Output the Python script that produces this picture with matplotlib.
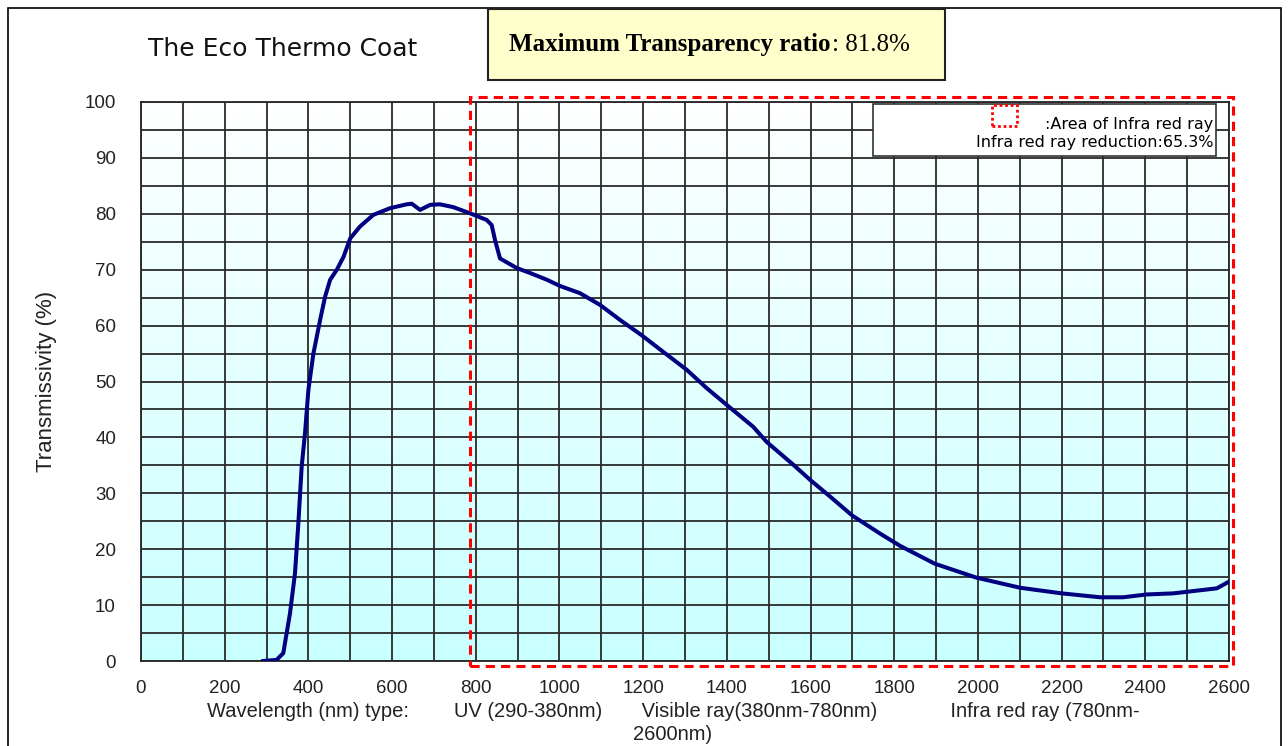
import numpy as np
import matplotlib
matplotlib.use("Agg")
import matplotlib.pyplot as plt
from matplotlib.patches import Rectangle
from matplotlib.ticker import MultipleLocator
from matplotlib.colors import LinearSegmentedColormap

wavelength = [292, 324, 340, 356, 368, 376, 384, 392, 400, 412, 428, 440, 452, 468, 484,
              500, 523, 555, 595, 635, 647, 667, 691, 714, 746, 786, 826, 838, 846, 858,
              898, 930, 970, 1001, 1049, 1097, 1145, 1196, 1248, 1304, 1352, 1400, 1463,
              1495, 1559, 1599, 1647, 1700, 1766, 1814, 1897, 1997, 2101, 2200, 2292,
              2347, 2403, 2467, 2571, 2600]
transmissivity = [0.0, 0.2, 1.4, 8.5, 15.7, 24.6, 34.8, 40.8, 48.5, 55.0, 61.0, 65.2, 68.2,
                  70.0, 72.3, 75.6, 77.7, 79.8, 81.0, 81.7, 81.8, 80.7, 81.6, 81.7, 81.2,
                  80.1, 78.9, 78.0, 75.3, 72.0, 70.3, 69.4, 68.2, 67.1, 65.8, 63.7, 61.0,
                  58.3, 55.3, 52.1, 48.8, 45.8, 41.9, 39.2, 35.1, 32.4, 29.4, 26.0, 22.8,
                  20.6, 17.4, 14.9, 13.1, 12.1, 11.4, 11.4, 11.9, 12.1, 13.0, 14.2]
x_ticks = list(range(0, 2601, 200))
y_ticks = list(range(0, 101, 10))
ir_start, ir_end = 786, 2610
title = "The Eco Thermo Coat"
max_label = "Maximum Transparency ratio"
max_value = ": 81.8%"
legend_line1 = ":Area of Infra red ray"
legend_line2 = "Infra red ray reduction:65.3%"
xlabel = ("Wavelength (nm) type:        UV (290-380nm)       Visible ray(380nm-780nm)"
          "             Infra red ray (780nm-\n2600nm)")
ylabel = "Transmissivity (%)"

plt.rcParams['font.family'] = ['Liberation Sans', 'DejaVu Sans']

W, H = 1288, 746
fig = plt.figure(figsize=(W/100, H/100), dpi=100)
fig.patch.set_facecolor('white')

# figure border
fig.patches.append(Rectangle((8/W, -0.02), (1281-8)/W, 1.02 - 8/H, transform=fig.transFigure,
                             fill=False, edgecolor='black', linewidth=1.2))

ax = fig.add_axes([141/W, 1 - 661/H, (1229-141)/W, (661-102)/H])

# gradient background: white at top to light cyan at bottom
grad = np.linspace(0, 1, 256).reshape(-1, 1)
cmap = LinearSegmentedColormap.from_list('bg', ['#ffffff', '#c8ffff'])
ax.imshow(grad, extent=[0, 2600, 0, 100], origin='upper', aspect='auto', cmap=cmap, zorder=0)
ax.set_xlim(0, 2600)
ax.set_ylim(0, 100)

ax.set_xticks(x_ticks)
ax.set_yticks(y_ticks)
ax.xaxis.set_minor_locator(MultipleLocator(100))
ax.yaxis.set_minor_locator(MultipleLocator(5))
ax.grid(True, which='both', color='#2a2a2a', linewidth=1.3, zorder=1)
ax.set_axisbelow(False)
ax.tick_params(which='both', length=0)
ax.tick_params(axis='x', labelsize=13.5, colors='#222222', pad=14)
ax.tick_params(axis='y', labelsize=13.5, colors='#222222', pad=18)
for s in ax.spines.values():
    s.set_color('#222222')
    s.set_linewidth(1.3)

ax.plot(wavelength, transmissivity, color='#000080', linewidth=2.9, zorder=3,
        solid_joinstyle='round')

# red dashed IR area
ax.add_patch(Rectangle((ir_start, -0.9), ir_end - ir_start, 101.8, fill=False,
                       edgecolor='#ff0000', linestyle=(0, (3, 2)), linewidth=2.2,
                       clip_on=False, zorder=4))

ax.set_xlabel(xlabel, fontsize=14.5, color='#222222', linespacing=1.3)
ax.xaxis.set_label_coords((673 - 141) / 1088, -(702 - 661) / 559)
ax.set_ylabel(ylabel, fontsize=16, color='#222222', labelpad=20)

# title
fig.text(148/W, 1 - 49/H, title, fontsize=18, fontfamily='DejaVu Sans', va='center', ha='left',
         color='#111111')

# max transparency box
fig.patches.append(Rectangle((488/W, 1 - 80/H), (945-488)/W, (80-9)/H, transform=fig.transFigure,
                             facecolor='#ffffcc', edgecolor='#222222', linewidth=1.5))
t1 = fig.text(509/W, 1 - 45/H, max_label, fontsize=18, fontfamily='Liberation Serif',
              fontweight='bold', va='center', ha='left')
fig.canvas.draw()
bb = t1.get_window_extent()
fig.text(bb.x1/W + 2/W, 1 - 45/H, max_value, fontsize=18, fontfamily='Liberation Serif',
         va='center', ha='left')

# legend box
fig.patches.append(Rectangle((873/W, 1 - 156/H), (1216-873)/W, (156-104)/H, transform=fig.transFigure,
                             facecolor='white', edgecolor='#333333', linewidth=1.2, zorder=5))
fig.patches.append(Rectangle((992/W, 1 - 126/H), (1017-992)/W, (126-105)/H, transform=fig.transFigure,
                             fill=False, edgecolor='#ff0000', linestyle=(0, (1, 1)), linewidth=2,
                             zorder=6))
fig.text(1213/W, 1 - 124/H, legend_line1, fontsize=11.5, fontfamily='DejaVu Sans', ha='right',
         va='center', zorder=7)
fig.text(1213/W, 1 - 142/H, legend_line2, fontsize=11.5, fontfamily='DejaVu Sans', ha='right',
         va='center', zorder=7)

fig.savefig('out.png', dpi=100)
